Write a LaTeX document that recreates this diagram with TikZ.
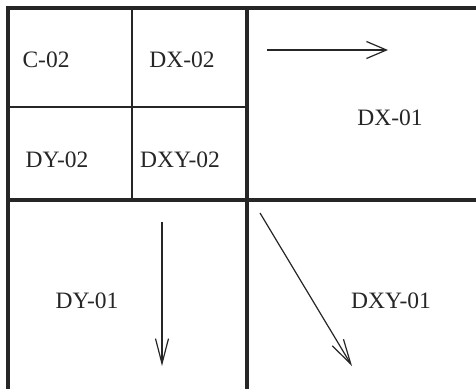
\documentclass[tikz,border=0pt]{standalone}
\usepackage{fontspec}
\setmainfont{Liberation Serif}
\usetikzlibrary{arrows.meta}
\begin{document}
\begin{tikzpicture}[x=1pt,y=-1pt,
  thickline/.style={line width=3.5pt,draw=black!85},
  thinline/.style={line width=2.6pt,draw=black!85},
  lbl/.style={font=\fontsize{23.5}{26}\selectfont,anchor=base,inner sep=0pt,text=black!85},
  flow/.style={line width=1.2pt,draw=black!85,-{Straight Barb[length=20pt,width=17pt,line width=1.2pt]}},
  flowlong/.style={line width=1.2pt,draw=black!85,-{Straight Barb[length=25pt,width=13pt,line width=1.2pt]}}]
\useasboundingbox (0,0) rectangle (476,388);
\clip (0,0) rectangle (476,388);
\fill[white] (0,0) rectangle (476,388);
% grid lines
\draw[thinline] (132,8) -- (132,200);
\draw[thinline] (8,107) -- (247,107);
\draw[thickline] (8,400) -- (8,8) -- (480,8);
\draw[thickline] (247,8) -- (247,400);
\draw[thickline] (8,200) -- (480,200);
% labels
\node[lbl] (c02) at (46,67) {C-02};
\node[lbl] (dx02) at (182,67) {DX-02};
\node[lbl] (dy02) at (57,167) {DY-02};
\node[lbl] (dxy02) at (180,167) {DXY-02};
\node[lbl] (dx01) at (390,125) {DX-01};
\node[lbl] (dy01) at (87,308) {DY-01};
\node[lbl] (dxy01) at (391,308) {DXY-01};
% arrows
\coordinate (a1s) at (267,50);
\coordinate (a1e) at (388,50);
\coordinate (a2s) at (162,222);
\coordinate (a2e) at (162,366);
\coordinate (a3s) at (260,213);
\coordinate (a3e) at (352,366);
\draw[flow] (a1s) -- (a1e);
\draw[flowlong] (a2s) -- (a2e);
\draw[flowlong] (a3s) -- (a3e);
\end{tikzpicture}
\end{document}
